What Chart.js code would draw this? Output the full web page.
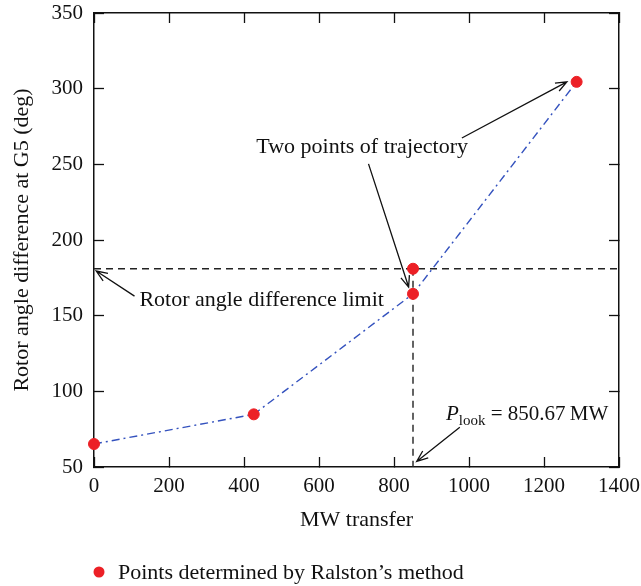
<!DOCTYPE html>
<html>
<head>
<meta charset="utf-8">
<script src="https://cdn.jsdelivr.net/npm/chart.js@4.4.1/dist/chart.umd.min.js"></script>
<style>
  body { margin: 0; background: #fff; }
  #wrap { width: 641px; height: 586px; }
</style>
</head>
<body>
<div id="wrap"><canvas id="rotorChart" width="641" height="586"></canvas></div>
<script>
// values
const trajX = [0, 426, 850.67, 1287];
const trajY = [65.2, 84.8, 164.4, 304.5];
const ralstonX = [0, 426, 850.67, 850.67, 1287];
const ralstonY = [65.2, 84.8, 181, 164.4, 304.5];
const limitY = 181;
const pLook = 850.67;
const xRange = [0, 1400];
const yRange = [50, 350];
const xStep = 200;
const yStep = 50;

const FONT = "'Liberation Serif', 'Times New Roman', serif";
const BLUE = 'rgb(52,82,190)';
const RED = 'rgb(236,32,38)';

const toPts = (xs, ys) => xs.map((x, i) => ({ x: x, y: ys[i] }));

// annotations in data coordinates
const notes = {
    twoPoints: { x: 715, y: 261, text: 'Two points of trajectory' },
    arrowsTwo: [
        [981, 267.4, 1261, 304.5],
        [732, 250.3, 839, 168.9]
    ],
    limit: { x: 121, y: 160.3, text: 'Rotor angle difference limit' },
    arrowLimit: [108, 162.9, 6, 179.5],
    plook: { x: 938.6, y: 86 },
    arrowPlook: [975.5, 76.2, 860.6, 53.7]
};

function drawArrow(ctx, x1, y1, x2, y2) {
    const ang = Math.atan2(y2 - y1, x2 - x1);
    const len = 12, spread = 0.38;
    ctx.beginPath();
    ctx.moveTo(x1, y1);
    ctx.lineTo(x2, y2);
    ctx.moveTo(x2 - len * Math.cos(ang - spread), y2 - len * Math.sin(ang - spread));
    ctx.lineTo(x2, y2);
    ctx.lineTo(x2 - len * Math.cos(ang + spread), y2 - len * Math.sin(ang + spread));
    ctx.stroke();
}

const annotatePlugin = {
    id: 'annotate',
    afterDraw(chart) {
        const ctx = chart.ctx;
        const xs = chart.scales.x, ys = chart.scales.y;
        const px = v => xs.getPixelForValue(v);
        const py = v => ys.getPixelForValue(v);
        ctx.save();
        ctx.fillStyle = '#111';
        ctx.strokeStyle = '#111';
        ctx.lineWidth = 1.3;
        ctx.textBaseline = 'middle';

        // two points of trajectory
        ctx.font = '22px ' + FONT;
        ctx.textAlign = 'center';
        ctx.fillText(notes.twoPoints.text, px(notes.twoPoints.x), py(notes.twoPoints.y));
        notes.arrowsTwo.forEach(a => drawArrow(ctx, px(a[0]), py(a[1]), px(a[2]), py(a[3])));

        // limit
        ctx.textAlign = 'left';
        ctx.fillText(notes.limit.text, px(notes.limit.x), py(notes.limit.y));
        const al = notes.arrowLimit;
        drawArrow(ctx, px(al[0]), py(al[1]), px(al[2]), py(al[3]));

        // P_look label
        let tx = px(notes.plook.x);
        const ty = py(notes.plook.y);
        ctx.textBaseline = 'alphabetic';
        const base = ty + 7;
        ctx.font = 'italic 21px ' + FONT;
        ctx.fillText('P', tx, base);
        tx += ctx.measureText('P').width;
        ctx.font = '15px ' + FONT;
        ctx.fillText('look', tx, base + 5);
        tx += ctx.measureText('look').width;
        ctx.font = '21px ' + FONT;
        ctx.fillText(' = ' + pLook.toFixed(2) + '\u2009MW', tx, base);
        const ap = notes.arrowPlook;
        drawArrow(ctx, px(ap[0]), py(ap[1]), px(ap[2]), py(ap[3]));

        // legend
        ctx.fillStyle = RED;
        ctx.beginPath();
        ctx.arc(99, 572, 5.5, 0, Math.PI * 2);
        ctx.fill();
        ctx.fillStyle = '#111';
        ctx.textBaseline = 'middle';
        ctx.font = '22px ' + FONT;
        ctx.fillText('Points determined by Ralston\u2019s method', 118, 573);
        ctx.restore();
    }
};

// no extra room for overhanging tick labels
function noPad(s) {
    s.paddingTop = 0;
    s.paddingBottom = 0;
    s.paddingLeft = 0;
    s.paddingRight = 0;
}

const gridOpts = {
    drawOnChartArea: false,
    drawTicks: true,
    tickLength: -10,
    tickWidth: 1.3,
    color: '#111'
};
const borderOpts = { display: true, color: '#111', width: 1.5 };
const tickFont = { family: FONT, size: 21 };
const titleFont = { family: FONT, size: 22 };
const plain = v => String(v);

new Chart(document.getElementById('rotorChart').getContext('2d'), {
    type: 'scatter',
    data: {
        datasets: [
            {
                // red points on top of all lines, not clipped at the axis
                data: toPts(ralstonX, ralstonY),
                backgroundColor: RED,
                borderColor: RED,
                pointRadius: 5.5,
                pointHoverRadius: 5.5,
                clip: false,
                order: 0
            },
            {
                type: 'line',
                data: toPts(trajX, trajY),
                borderColor: BLUE,
                borderWidth: 1.4,
                borderDash: [8, 4, 2, 4],
                pointRadius: 0,
                fill: false,
                tension: 0,
                order: 1
            },
            {
                type: 'line',
                data: [{ x: xRange[0], y: limitY }, { x: xRange[1], y: limitY }],
                borderColor: '#222',
                borderWidth: 1.4,
                borderDash: [7, 5],
                pointRadius: 0,
                order: 1
            },
            {
                type: 'line',
                data: [{ x: pLook, y: limitY }, { x: pLook, y: yRange[0] }],
                borderColor: '#222',
                borderWidth: 1.4,
                borderDash: [7, 5],
                pointRadius: 0,
                order: 1
            }
        ]
    },
    options: {
        responsive: false,
        animation: false,
        devicePixelRatio: 1,
        layout: { padding: { top: 13, right: 22, bottom: 50, left: 0 } },
        plugins: { legend: { display: false }, tooltip: { enabled: false } },
        scales: {
            x: {
                type: 'linear', position: 'bottom',
                min: xRange[0], max: xRange[1],
                ticks: { stepSize: xStep, font: tickFont, color: '#111', padding: 17, maxRotation: 0, callback: plain },
                grid: gridOpts, border: borderOpts,
                title: { display: true, text: 'MW transfer', font: titleFont, color: '#111', padding: { top: 0, bottom: 3 } },
                afterFit: s => { s.height = 69; noPad(s); }
            },
            x2: {
                type: 'linear', position: 'top',
                min: xRange[0], max: xRange[1],
                ticks: { stepSize: xStep, display: false },
                grid: gridOpts, border: borderOpts,
                afterFit: s => { s.height = 0; noPad(s); }
            },
            y: {
                type: 'linear', position: 'left',
                min: yRange[0], max: yRange[1],
                ticks: { stepSize: yStep, font: tickFont, color: '#111', padding: 21, callback: plain },
                grid: gridOpts, border: borderOpts,
                title: { display: true, text: 'Rotor angle difference at G5 (deg)', font: titleFont, color: '#111', padding: { top: 9, bottom: 0 } },
                afterFit: s => { s.width = 94; noPad(s); }
            },
            y2: {
                type: 'linear', position: 'right',
                min: yRange[0], max: yRange[1],
                ticks: { stepSize: yStep, display: false },
                grid: gridOpts, border: borderOpts,
                afterFit: s => { s.width = 0; noPad(s); }
            }
        }
    },
    plugins: [annotatePlugin]
});
</script>
</body>
</html>
